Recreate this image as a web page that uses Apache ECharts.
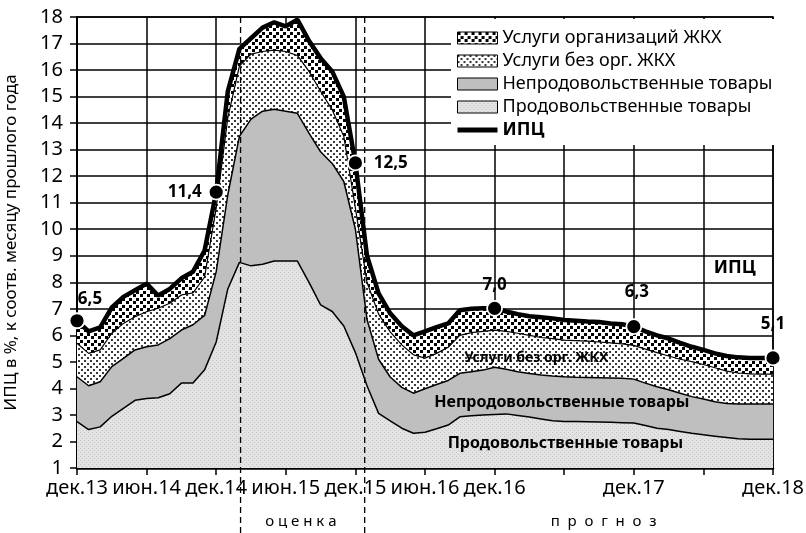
<!DOCTYPE html>
<html>
<head>
<meta charset="utf-8">
<title>ИПЦ</title>
<script src="https://cdn.jsdelivr.net/npm/echarts@6.0.0/dist/echarts.min.js"></script>
<style>
  html, body { margin: 0; padding: 0; background: #fff; }
  #chart { width: 806px; height: 533px; }
</style>
</head>
<body>
<div id="chart"></div>
<script>
// месяцы: 0 = дек.13 ... 60 = дек.18, вклад в ИПЦ, п.п.
const food = [2.75, 2.45, 2.55, 2.95, 3.25, 3.55, 3.62, 3.65, 3.8, 4.2,
  4.2, 4.7, 5.75, 7.75, 8.75, 8.62, 8.68, 8.8, 8.8, 8.8,
  8.0, 7.15, 6.9, 6.35, 5.35, 4.1, 3.06, 2.78, 2.5, 2.31,
  2.35, 2.48, 2.62, 2.93, 2.97, 3.0, 3.02, 3.04, 2.98, 2.92,
  2.85, 2.78, 2.75, 2.75, 2.74, 2.73, 2.72, 2.71, 2.7, 2.6,
  2.5, 2.45, 2.38, 2.31, 2.25, 2.2, 2.15, 2.1, 2.08, 2.08,
  2.08]
const nonFood = [1.69, 1.65, 1.70, 1.87, 1.88, 1.90, 1.95, 1.99, 2.08, 2.00,
  2.20, 2.05, 2.65, 3.55, 4.75, 5.53, 5.77, 5.72, 5.65, 5.57,
  5.62, 5.77, 5.58, 5.45, 4.65, 2.50, 2.04, 1.65, 1.54, 1.51,
  1.64, 1.67, 1.68, 1.64, 1.66, 1.69, 1.78, 1.68, 1.65, 1.64,
  1.66, 1.69, 1.69, 1.67, 1.67, 1.67, 1.67, 1.67, 1.65, 1.60,
  1.56, 1.50, 1.44, 1.38, 1.35, 1.30, 1.28, 1.31, 1.33, 1.33,
  1.33]
const services = [1.26, 1.22, 1.20, 1.26, 1.32, 1.25, 1.32, 1.38, 1.33, 1.32,
  1.20, 1.45, 2.40, 2.90, 2.65, 2.45, 2.25, 2.23, 2.25, 2.18,
  2.33, 2.28, 2.02, 1.70, 0.80, 1.40, 1.70, 1.70, 1.60, 1.45,
  1.15, 1.17, 1.25, 1.43, 1.47, 1.46, 1.40, 1.43, 1.45, 1.44,
  1.41, 1.41, 1.38, 1.38, 1.37, 1.35, 1.33, 1.30, 1.27, 1.28,
  1.29, 1.27, 1.28, 1.32, 1.30, 1.28, 1.22, 1.17, 1.14, 1.13,
  1.13]
const housing = [0.85, 0.83, 0.85, 0.97, 1.00, 1.00, 1.06, 0.48, 0.54, 0.63,
  0.80, 1.00, 0.60, 1.00, 0.65, 0.60, 0.90, 1.05, 0.95, 1.35,
  1.15, 1.25, 1.45, 1.50, 1.70, 1.00, 0.78, 0.70, 0.70, 0.73,
  1.01, 0.99, 0.90, 0.95, 0.90, 0.87, 0.82, 0.75, 0.72, 0.72,
  0.76, 0.76, 0.76, 0.75, 0.74, 0.75, 0.73, 0.74, 0.71, 0.67,
  0.65, 0.66, 0.62, 0.56, 0.55, 0.54, 0.57, 0.59, 0.60, 0.61,
  0.61]
const cpi = [6.55, 6.15, 6.3, 7.05, 7.45, 7.7, 7.95, 7.5, 7.75, 8.15,
  8.4, 9.2, 11.4, 15.2, 16.8, 17.2, 17.6, 17.8, 17.65, 17.9,
  17.1, 16.45, 15.95, 15.0, 12.5, 9.0, 7.58, 6.83, 6.34, 6.0,
  6.15, 6.31, 6.45, 6.95, 7.0, 7.02, 7.02, 6.9, 6.8, 6.72,
  6.68, 6.64, 6.58, 6.55, 6.52, 6.5, 6.45, 6.42, 6.33, 6.15,
  6.0, 5.88, 5.72, 5.57, 5.45, 5.32, 5.22, 5.17, 5.15, 5.15,
  5.15]

// подписи по оси x (каждые 6 месяцев)
const tickLabels = ['дек.13', 'июн.14', 'дек.14', 'июн.15', 'дек.15', 'июн.16', 'дек.16', '', 'дек.17', '', 'дек.18']

// отмеченные точки ИПЦ
const keyIdx = [0, 12, 24, 36, 48, 60]
const keyVal = [6.55, 11.4, 12.5, 7.02, 6.33, 5.15]
const keyText = ['6,5', '11,4', '12,5', '7,0', '6,3', '5,1']

// границы периодов (оценка / прогноз), в месяцах от дек.13
const phaseBounds = [14.1, 24.8]

const FONT = 'Noto Sans'

function makePattern(size, bg, fg, dots) {
  const c = document.createElement('canvas')
  c.width = size
  c.height = size
  const ctx = c.getContext('2d')
  ctx.fillStyle = bg
  ctx.fillRect(0, 0, size, size)
  ctx.fillStyle = fg
  dots.forEach(d => ctx.fillRect(d[0], d[1], d[2], d[2]))
  return { image: c, repeat: 'repeat' }
}

const foodFill = makePattern(4, '#e3e3e3', '#c4c4c4', [[0, 0, 1], [2, 2, 1]])
const nonFoodFill = '#bfbfbf'
const servFill = makePattern(6, '#ffffff', '#3a3a3a', [[0, 0, 2], [3, 3, 2]])
const housingFill = makePattern(7, '#ffffff', '#000000', [[0, 0, 3], [3, 4, 3]])

const months = cpi.map((v, i) => String(i))

const labelPlace = [
  { position: 'top', distance: 5, offset: [13, 0] },
  { position: 'left', distance: 6 },
  { position: 'right', distance: 10 },
  { position: 'top', distance: 6 },
  { position: 'top', distance: 18, offset: [3, 0] },
  { position: 'top', distance: 17 }
]

const chart = echarts.init(document.getElementById('chart'))

chart.setOption({
  animation: false,
  textStyle: { fontFamily: FONT, color: '#000' },
  grid: {
    left: 77, right: 33, top: 17, bottom: 65,
    show: true, borderColor: '#000', borderWidth: 1.5,
    outerBoundsMode: 'none'
  },
  legend: {
    orient: 'vertical',
    left: 451,
    top: 19,
    padding: [10, 6, 6, 6],
    backgroundColor: '#fff',
    itemWidth: 40,
    itemHeight: 12,
    itemGap: 5,
    textStyle: { fontFamily: FONT, fontSize: 18, color: '#000' },
    data: [
      { name: 'Услуги организаций ЖКХ', icon: 'rect', itemStyle: { color: housingFill, borderColor: '#000', borderWidth: 1 } },
      { name: 'Услуги без орг. ЖКХ', icon: 'rect', itemStyle: { color: servFill, borderColor: '#000', borderWidth: 1 } },
      { name: 'Непродовольственные товары', icon: 'rect', itemStyle: { color: nonFoodFill, borderColor: '#000', borderWidth: 1 } },
      { name: 'Продовольственные товары', icon: 'rect', itemStyle: { color: foodFill, borderColor: '#000', borderWidth: 1 } },
      { name: 'ИПЦ', icon: 'path://M0,0H40V5H0Z', itemStyle: { color: '#000', borderWidth: 0 }, textStyle: { fontWeight: 'bold' } }
    ]
  },
  xAxis: {
    type: 'category',
    data: months,
    boundaryGap: false,
    axisLine: { lineStyle: { color: '#000', width: 2.5 } },
    axisTick: { interval: 5, length: 7, lineStyle: { color: '#000', width: 1.5 } },
    axisLabel: {
      interval: 5,
      margin: 10,
      fontSize: 20,
      color: '#000',
      fontFamily: FONT,
      formatter: (v, i) => tickLabels[Math.round(i / 6)] || ''
    },
    splitLine: { show: true, interval: 5, lineStyle: { color: '#000', width: 1.5 } }
  },
  yAxis: {
    type: 'value',
    min: 1,
    max: 18,
    interval: 1,
    name: 'ИПЦ в %, к соотв. месяцу прошлого года',
    nameLocation: 'middle',
    nameGap: 57,
    nameTextStyle: { fontSize: 17, color: '#000', fontFamily: FONT },
    axisLine: { show: true, lineStyle: { color: '#000', width: 2 } },
    axisTick: { show: true, length: 7, lineStyle: { color: '#000', width: 1.5 } },
    axisLabel: { margin: 14, fontSize: 20, color: '#000', fontFamily: FONT },
    splitLine: { show: true, lineStyle: { color: '#000', width: 1.5 } }
  },
  series: [
    {
      name: 'Продовольственные товары',
      type: 'line',
      stack: 'cpi',
      data: food,
      symbol: 'none',
      itemStyle: { color: '#000' },
      lineStyle: { color: '#000', width: 1.5 },
      areaStyle: { color: foodFill, opacity: 1 }
    },
    {
      name: 'Непродовольственные товары',
      type: 'line',
      stack: 'cpi',
      data: nonFood,
      symbol: 'none',
      itemStyle: { color: '#000' },
      lineStyle: { color: '#000', width: 1.5 },
      areaStyle: { color: nonFoodFill, opacity: 1 }
    },
    {
      name: 'Услуги без орг. ЖКХ',
      type: 'line',
      stack: 'cpi',
      data: services,
      symbol: 'none',
      itemStyle: { color: '#000' },
      lineStyle: { color: '#000', width: 1.2 },
      areaStyle: { color: servFill, opacity: 1 }
    },
    {
      name: 'Услуги организаций ЖКХ',
      type: 'line',
      stack: 'cpi',
      data: housing,
      symbol: 'none',
      itemStyle: { color: '#000' },
      lineStyle: { width: 0 },
      areaStyle: { color: housingFill, opacity: 1 }
    },
    {
      name: 'ИПЦ',
      type: 'line',
      data: cpi,
      symbol: 'none',
      itemStyle: { color: '#000' },
      lineStyle: { color: '#000', width: 4.5 },
      z: 3
    },
    {
      name: 'точки',
      type: 'scatter',
      symbol: 'circle',
      symbolSize: 15,
      itemStyle: { color: '#000', opacity: 1, borderColor: '#fff', borderWidth: 1.8 },
      z: 4,
      data: keyIdx.map((x, k) => ({
        value: [x, keyVal[k]],
        label: Object.assign({
          show: true,
          formatter: keyText[k],
          fontFamily: FONT,
          fontSize: 17,
          fontWeight: 'bold',
          color: '#000'
        }, labelPlace[k])
      }))
    }
  ]
})

// пиксельная координата по дробному номеру месяца
function monthToX(m) {
  const i = Math.floor(m)
  const x0 = chart.convertToPixel({ xAxisIndex: 0 }, i)
  const x1 = chart.convertToPixel({ xAxisIndex: 0 }, i + 1)
  return x0 + (x1 - x0) * (m - i)
}
const valToY = v => chart.convertToPixel({ yAxisIndex: 0 }, v)

// подписи внутри графика и границы периодов
const notes = [
  { text: 'Услуги без орг. ЖКХ', at: [39.6, 5.15], size: 14 },
  { text: 'Непродовольственные товары', at: [41.8, 3.49], size: 16 },
  { text: 'Продовольственные товары', at: [42.1, 1.94], size: 16 },
  { text: 'ИПЦ', at: [56.7, 8.54], size: 18 }
]

const graphics = []
notes.forEach(n => {
  graphics.push({
    type: 'text',
    x: monthToX(n.at[0]),
    y: valToY(n.at[1]),
    z: 50,
    style: {
      text: n.text,
      fontFamily: FONT,
      fontSize: n.size,
      fontWeight: 'bold',
      fill: '#000',
      align: 'center',
      verticalAlign: 'middle'
    }
  })
})

const plotTop = valToY(18)
phaseBounds.forEach(b => {
  const x = monthToX(b)
  graphics.push({
    type: 'line',
    z: 40,
    shape: { x1: x, y1: plotTop, x2: x, y2: 533 },
    style: { stroke: '#000', lineWidth: 1.3, lineDash: [6, 4] }
  })
})

const phases = [
  { text: 'о ц е н к а', x: 19.3 },
  { text: 'п  р  о  г  н  о  з', x: 45.4 }
]
phases.forEach(ph => {
  graphics.push({
    type: 'text',
    x: monthToX(ph.x),
    y: 522,
    z: 50,
    style: {
      text: ph.text,
      fontFamily: FONT,
      fontSize: 15,
      fill: '#000',
      align: 'center',
      verticalAlign: 'middle'
    }
  })
})

chart.setOption({ graphic: graphics })
</script>
</body>
</html>
